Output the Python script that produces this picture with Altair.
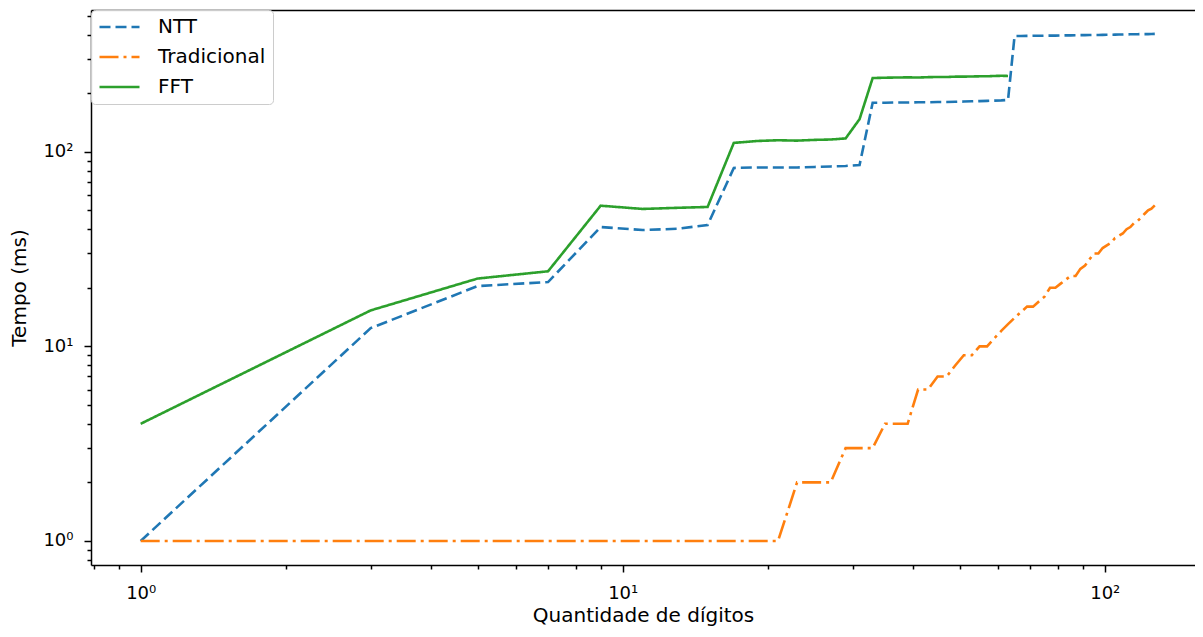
import altair as alt
import pandas as pd

# Quantidade de dígitos (odd sizes)
digits = [1, 3, 5, 7, 9, 11, 13, 15, 17, 19, 21, 23, 25, 27, 29, 31,
          33, 35, 37, 39, 41, 43, 45, 47, 49, 51, 53, 55, 57, 59, 61, 63,
          65, 67, 69, 71, 73, 75, 77, 79, 81, 83, 85, 87, 89, 91, 93, 95,
          97, 99, 101, 103, 105, 107, 109, 111, 113, 115, 117, 119, 121, 123, 125, 127]

ntt = [1, 12.4, 20.4, 21.4, 41, 39.6, 40.2, 42, 82.5, 83, 83, 83, 83.5, 84, 84.5, 85.5,
       178.5, 178.5, 179, 179, 179.5, 179.5, 180, 180, 180.5, 181, 181.5, 182, 182.5, 183, 183.5, 184.5,
       393, 393, 393.5, 394, 394, 394.5, 395, 395, 395.5, 396, 396, 396.5, 397, 397, 397.5, 398,
       398, 398.5, 399, 399, 399.5, 400, 400, 400.5, 401, 401, 401.5, 402, 402, 402, 402.5, 403]

tradicional = [1, 1, 1, 1, 1, 1, 1, 1, 1, 1, 1, 2, 2, 2, 3, 3,
               3, 4, 4, 4, 6, 6, 7, 7, 8, 9, 9, 10, 10, 11, 12, 13,
               14, 15, 16, 16, 17, 18, 20, 20, 21, 22, 23, 23, 25, 26, 28, 30,
               30, 32, 33, 34, 36, 37, 38, 40, 41, 43, 44, 46, 48, 50, 51, 53]

fft = [4, 15.3, 22.3, 24.3, 52.8, 50.8, 51.5, 52, 111, 113.5, 114.5, 114, 115, 115.5, 117, 147,
       239, 240, 240.5, 241, 240.5, 241.5, 242, 242, 243, 243, 243.5, 244, 244, 245, 245.5, 245]

series_names = ["NTT", "Tradicional", "FFT"]
series_values = [ntt, tradicional, fft]
series_colors = ["#1f77b4", "#ff7f0e", "#2ca02c"]
series_dashes = [[11, 5], [19, 5, 3, 5], [1, 0]]

x_tick_values = [0.8, 0.9, 1, 2, 3, 4, 5, 6, 7, 8, 9, 10, 20, 30, 40, 50, 60, 70, 80, 90, 100]
y_tick_values = [0.8, 0.9, 1, 2, 3, 4, 5, 6, 7, 8, 9, 10, 20, 30, 40, 50, 60, 70, 80, 90,
                 100, 200, 300, 400, 500]

rows = []
for name, vals in zip(series_names, series_values):
    for xv, yv in zip(digits, vals):
        rows.append({"digitos": xv, "tempo": yv, "serie": name})
df = pd.DataFrame(rows)

major_test = "datum.value == 1 || datum.value == 10 || datum.value == 100"
label_expr = ("datum.value == 1 ? '10\u2070' : datum.value == 10 ? '10\u00b9' : "
              "datum.value == 100 ? '10\u00b2' : ''")
tick_size = {"condition": {"test": major_test, "value": 7}, "value": 4}

common_axis = dict(
    labelExpr=label_expr, tickSize=tick_size, tickWidth=1.5,
    tickColor="black", labelColor="black", labelFontSize=18, labelFont="DejaVu Sans",
    titleFontSize=20, titleFont="DejaVu Sans", titleFontWeight="normal", titleColor="black",
    grid=False, domain=True, domainColor="black", domainWidth=1.5,
    labelFlush=False, labelOverlap=False,
)

x_axis = alt.Axis(values=x_tick_values, title="Quantidade de dígitos",
                  labelPadding=12, titleY=56, titleBaseline="alphabetic", **common_axis)
y_axis = alt.Axis(values=y_tick_values, title="Tempo (ms)",
                  labelPadding=11, titleX=-66, titleBaseline="alphabetic", **common_axis)

x_scale = alt.Scale(type="log", domain=[0.7887, 153.9], nice=False)
y_scale = alt.Scale(type="log", domain=[0.7527, 534.6], nice=False)

legend = alt.Legend(title=None, orient="none", legendX=0, legendY=0,
                    fillColor="rgba(255,255,255,0.85)", strokeColor="#cccccc",
                    cornerRadius=4, padding=7, symbolType="stroke", symbolSize=1600,
                    symbolStrokeWidth=2.6, labelFontSize=20, labelFont="DejaVu Sans",
                    labelColor="black", labelOffset=17, rowPadding=10, clipHeight=20)

lines = alt.Chart(df).mark_line(strokeWidth=2.6, clip=True, strokeCap="butt").encode(
    x=alt.X("digitos:Q", scale=x_scale, axis=x_axis),
    y=alt.Y("tempo:Q", scale=y_scale, axis=y_axis),
    color=alt.Color("serie:N", scale=alt.Scale(domain=series_names, range=series_colors),
                    legend=legend, sort=series_names),
    strokeDash=alt.StrokeDash("serie:N", scale=alt.Scale(domain=series_names, range=series_dashes),
                              legend=legend, sort=series_names),
    order=alt.Order("digitos:Q"),
)

# top spine only (the right side of the reference is cut off)
top_frame = alt.Chart(df).mark_point(opacity=0).encode(
    x=alt.X("digitos:Q", scale=x_scale,
            axis=alt.Axis(orient="top", labels=False, ticks=False, title=None, grid=False,
                          domain=True, domainColor="black", domainWidth=1.5)),
)

chart = alt.layer(lines, top_frame).resolve_axis(x="independent").properties(
    width=1104, height=555,
    autosize=alt.AutoSizeParams(type="none"),
    padding={"left": 83, "top": 2, "right": 0, "bottom": 61},
).configure(
    font="DejaVu Sans", background="white"
).configure_view(
    stroke="transparent"
)

chart.save("out.html", embed_options={"renderer": "svg", "actions": False})
